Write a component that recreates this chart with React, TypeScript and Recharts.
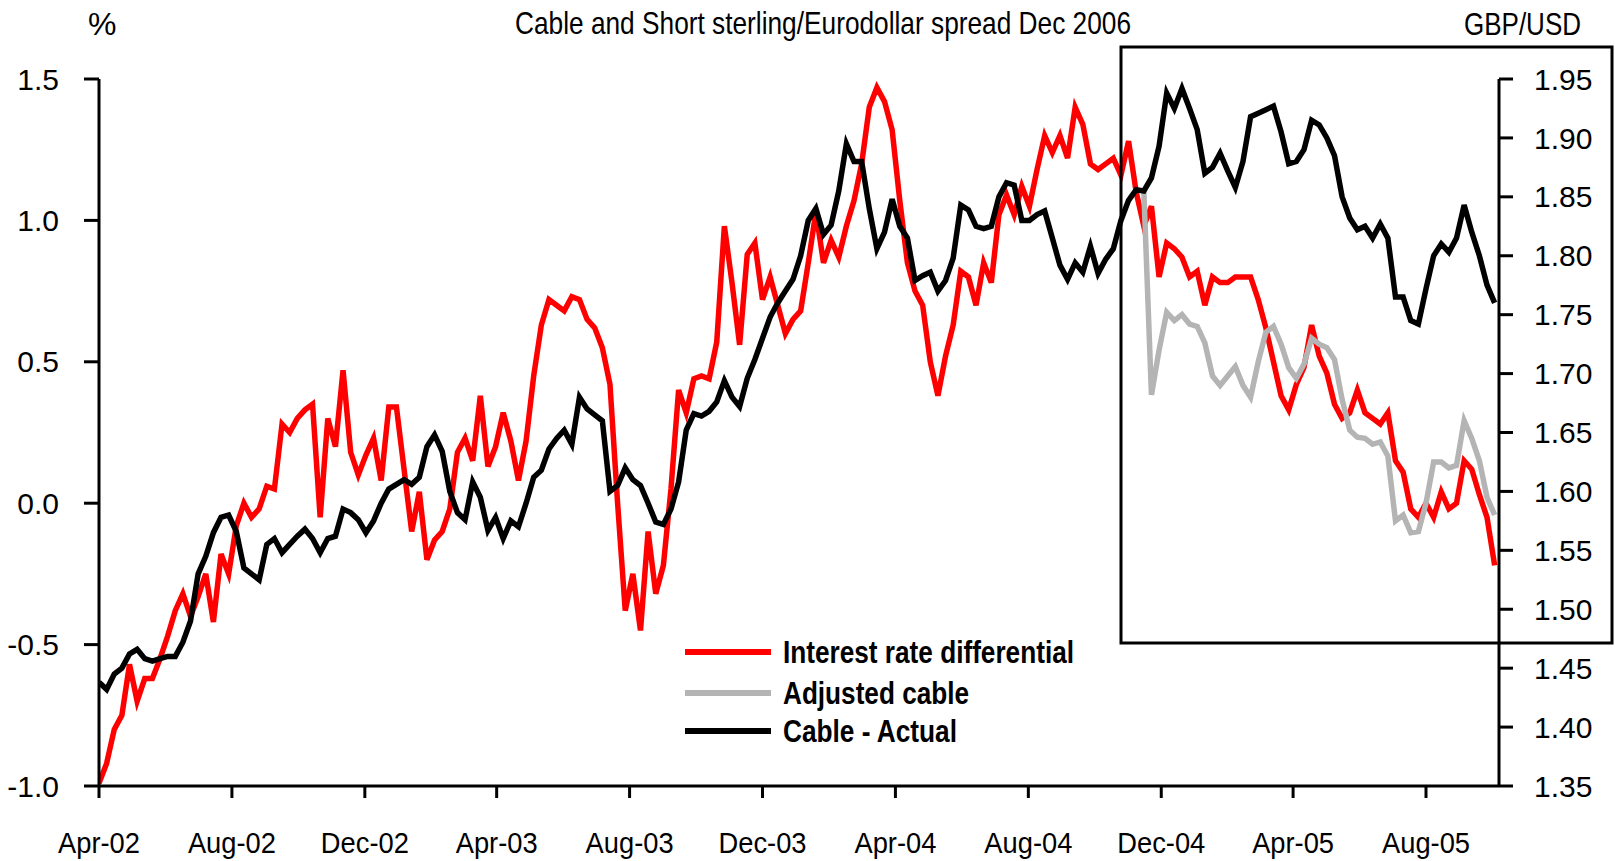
import React from "react";
import { LineChart, Line, XAxis, YAxis, Legend } from "recharts";

const FONT = "'Liberation Sans Narrow', 'Arial Narrow', 'Liberation Sans', Arial, sans-serif";

// Weekly observations starting 1 Apr 2002
const START = Date.UTC(2002, 3, 1);
const WEEK = 7 * 86400000;
const END = Date.UTC(2005, 9, 7);

// Interest rate differential (%), left axis
const rateDiff = [
  -0.99, -0.92, -0.80, -0.75, -0.57, -0.70, -0.62, -0.62, -0.55, -0.47,
  -0.38, -0.32, -0.40, -0.33, -0.25, -0.42, -0.18, -0.25, -0.08, 0.00,
  -0.05, -0.02, 0.06, 0.05, 0.28, 0.25, 0.30, 0.33, 0.35, -0.05,
  0.30, 0.20, 0.47, 0.18, 0.10, 0.17, 0.23, 0.08, 0.34, 0.34,
  0.12, -0.10, 0.04, -0.20, -0.13, -0.10, -0.02, 0.18, 0.23, 0.15,
  0.38, 0.13, 0.20, 0.32, 0.22, 0.08, 0.22, 0.45, 0.63, 0.72,
  0.70, 0.68, 0.73, 0.72, 0.65, 0.62, 0.55, 0.42, 0.00, -0.38,
  -0.25, -0.45, -0.10, -0.32, -0.22, 0.05, 0.40, 0.32, 0.44, 0.45,
  0.44, 0.57, 0.98, 0.78, 0.56, 0.88, 0.92, 0.72, 0.80, 0.70,
  0.60, 0.65, 0.68, 0.85, 1.03, 0.85, 0.93, 0.87, 0.98, 1.07,
  1.20, 1.40, 1.47, 1.42, 1.32, 1.07, 0.85, 0.75, 0.70, 0.50,
  0.38, 0.52, 0.63, 0.82, 0.80, 0.70, 0.85, 0.78, 1.02, 1.09,
  1.02, 1.12, 1.05, 1.18, 1.30, 1.24, 1.30, 1.22, 1.40, 1.34,
  1.20, 1.18, 1.20, 1.22, 1.16, 1.28, 1.10, 0.98, 1.05, 0.80,
  0.92, 0.90, 0.87, 0.80, 0.82, 0.70, 0.80, 0.78, 0.78, 0.80,
  0.80, 0.80, 0.72, 0.62, 0.50, 0.38, 0.33, 0.42, 0.48, 0.63,
  0.52, 0.46, 0.35, 0.30, 0.32, 0.40, 0.32, 0.30, 0.28, 0.32,
  0.15, 0.11, -0.02, -0.05, 0.00, -0.05, 0.04, -0.02, 0.00, 0.15,
  0.12, 0.03, -0.05, -0.22,
];

// Cable - Actual (GBP/USD), right axis
const cableActual = [
  1.438, 1.432, 1.445, 1.450, 1.462, 1.466, 1.458, 1.456, 1.458, 1.460,
  1.460, 1.472, 1.490, 1.530, 1.545, 1.565, 1.578, 1.580, 1.566, 1.535,
  1.530, 1.525, 1.555, 1.560, 1.548, 1.555, 1.562, 1.568, 1.560, 1.548,
  1.560, 1.562, 1.585, 1.582, 1.576, 1.565, 1.575, 1.590, 1.602, 1.606,
  1.610, 1.606, 1.612, 1.638, 1.648, 1.634, 1.600, 1.582, 1.576, 1.608,
  1.595, 1.567, 1.578, 1.560, 1.575, 1.570, 1.590, 1.612, 1.618, 1.636,
  1.645, 1.652, 1.640, 1.680, 1.670, 1.665, 1.660, 1.600, 1.605, 1.620,
  1.610, 1.605, 1.590, 1.574, 1.572, 1.585, 1.608, 1.652, 1.666, 1.664,
  1.668, 1.676, 1.694, 1.680, 1.672, 1.696, 1.712, 1.730, 1.748, 1.760,
  1.770, 1.780, 1.800, 1.830, 1.840, 1.818, 1.826, 1.855, 1.895, 1.880,
  1.880, 1.840, 1.806, 1.820, 1.848, 1.825, 1.815, 1.779, 1.783, 1.786,
  1.770, 1.779, 1.798, 1.843, 1.839, 1.825, 1.823, 1.825, 1.850, 1.862,
  1.860, 1.830, 1.830, 1.835, 1.838, 1.815, 1.792, 1.780, 1.794, 1.786,
  1.808, 1.785, 1.797, 1.806, 1.830, 1.847, 1.856, 1.855, 1.866, 1.893,
  1.938, 1.925, 1.942, 1.925, 1.907, 1.870, 1.875, 1.887, 1.872, 1.858,
  1.880, 1.918, 1.921, 1.924, 1.927, 1.905, 1.878, 1.880, 1.890, 1.915,
  1.911, 1.900, 1.885, 1.850, 1.832, 1.822, 1.825, 1.815, 1.827, 1.815,
  1.765, 1.765, 1.745, 1.742, 1.772, 1.800, 1.810, 1.803, 1.815, 1.843,
  1.820, 1.800, 1.775, 1.760,
];

// Adjusted cable (GBP/USD), right axis, starts at week 137
const ADJ_START_WEEK = 137;
const adjustedCable = [
  1.855, 1.682, 1.720, 1.752, 1.745, 1.750, 1.742, 1.740, 1.726, 1.698,
  1.690, 1.698, 1.706, 1.690, 1.680, 1.710, 1.735, 1.740, 1.725, 1.705,
  1.696, 1.708, 1.730, 1.725, 1.722, 1.712, 1.678, 1.652, 1.646, 1.645,
  1.640, 1.642, 1.630, 1.575, 1.580, 1.565, 1.566, 1.590, 1.625, 1.625,
  1.620, 1.622, 1.660, 1.645, 1.626, 1.595, 1.580,
];

const xTickLabels = ["Apr-02", "Aug-02", "Dec-02", "Apr-03", "Aug-03", "Dec-03", "Apr-04", "Aug-04", "Dec-04", "Apr-05", "Aug-05"];
const xTickDates = [
  [2002, 3], [2002, 7], [2002, 11], [2003, 3], [2003, 7], [2003, 11],
  [2004, 3], [2004, 7], [2004, 11], [2005, 3], [2005, 7],
];
const leftTicks = [-1.0, -0.5, 0.0, 0.5, 1.0, 1.5];
const rightTicks = [1.35, 1.4, 1.45, 1.5, 1.55, 1.6, 1.65, 1.7, 1.75, 1.8, 1.85, 1.9, 1.95];

const series = [
  { key: "rate", name: "Interest rate differential", color: "#FF0000", axis: "left", labelWidth: 291 },
  { key: "adj", name: "Adjusted cable", color: "#B4B4B4", axis: "right", labelWidth: 186 },
  { key: "cable", name: "Cable - Actual", color: "#000000", axis: "right", labelWidth: 174 },
];

const xTicks = xTickDates.map(([y, m]) => Date.UTC(y, m, 1));
const labelFor = (t: number) => {
  const i = xTicks.indexOf(t);
  return i >= 0 ? xTickLabels[i] : "";
};

const data = rateDiff.map((r, i) => ({
  t: START + i * WEEK,
  rate: r,
  cable: cableActual[i],
  adj: i >= ADJ_START_WEEK ? adjustedCable[i - ADJ_START_WEEK] : null,
}));

const tickStyle = { fill: "#000", fontSize: 30, fontFamily: FONT };
const lineStyle = { stroke: "#000", strokeWidth: 3 };

const XTick = (props: any) => {
  const { x, y, payload } = props;
  return (
    <g transform={`translate(${x},${y})`}>
      <text
        textAnchor="middle"
        dy="0.71em"
        transform="scale(0.91,1)"
        fontSize={30}
        fontFamily={FONT}
        fill="#000"
      >
        {labelFor(payload.value)}
      </text>
    </g>
  );
};

const LegendContent = () => (
  <svg width={560} height={120} style={{ display: "block", overflow: "visible" }}>
    {series.map((s, i) => {
      const cy = [20, 61, 99][i];
      return (
        <g key={s.key}>
          <line x1={0} y1={cy} x2={86} y2={cy} stroke={s.color} strokeWidth={6} />
          <text
            x={98}
            y={cy + 11}
            fontFamily={FONT}
            fontWeight="bold"
            fontSize={31}
            fill="#000"
            textLength={s.labelWidth}
            lengthAdjust="spacingAndGlyphs"
          >
            {s.name}
          </text>
        </g>
      );
    })}
  </svg>
);

export default function App() {
  return (
    <div style={{ position: "absolute", left: 0, top: 0, width: 1615, height: 861, background: "#fff" }}>
      <LineChart
        width={1615}
        height={861}
        data={data}
        margin={{ top: 79, right: 0, bottom: 0, left: 0 }}
      >
        <XAxis
          dataKey="t"
          type="number"
          domain={[START, END]}
          ticks={xTicks}
          tickFormatter={labelFor}
          height={75}
          tick={<XTick />}
          tickSize={12}
          tickMargin={34}
          tickLine={lineStyle}
          axisLine={lineStyle}
          allowDataOverflow
        />
        <YAxis
          yAxisId="left"
          orientation="left"
          domain={[-1, 1.5]}
          ticks={leftTicks}
          tickFormatter={(v: number) => v.toFixed(1)}
          width={99}
          tick={tickStyle}
          tickSize={15}
          tickMargin={25}
          tickLine={lineStyle}
          axisLine={lineStyle}
          interval={0}
          allowDataOverflow
        />
        <YAxis
          yAxisId="right"
          orientation="right"
          domain={[1.35, 1.95]}
          ticks={rightTicks}
          tickFormatter={(v: number) => v.toFixed(2)}
          width={116}
          tick={tickStyle}
          tickSize={14}
          tickMargin={21}
          tickLine={lineStyle}
          axisLine={lineStyle}
          interval={0}
          allowDataOverflow
        />
        {series.map((s) => (
          <Line
            key={s.key}
            yAxisId={s.axis}
            dataKey={s.key}
            name={s.name}
            type="linear"
            stroke={s.color}
            strokeWidth={5.5}
            dot={false}
            activeDot={false}
            isAnimationActive={false}
            strokeLinejoin="miter"
          />
        ))}
        <Legend
          layout="vertical"
          align="center"
          verticalAlign="middle"
          content={LegendContent}
          wrapperStyle={{ position: "absolute", left: 685, top: 632, width: 560, overflow: "visible" }}
        />
      </LineChart>
      <svg
        width={1615}
        height={861}
        style={{ position: "absolute", left: 0, top: 0, pointerEvents: "none" }}
      >
        <rect x={1121} y={47} width={491} height={596} fill="none" stroke="#000" strokeWidth={3} />
        <text
          x={823}
          y={34}
          textAnchor="middle"
          fontFamily={FONT}
          fontSize={32}
          fill="#000"
          textLength={616}
          lengthAdjust="spacingAndGlyphs"
        >
          Cable and Short sterling/Eurodollar spread Dec 2006
        </text>
        <text x={88} y={35} fontFamily={FONT} fontSize={32} fill="#000">%</text>
        <text
          x={1581}
          y={35}
          textAnchor="end"
          fontFamily={FONT}
          fontSize={32}
          fill="#000"
          textLength={117}
          lengthAdjust="spacingAndGlyphs"
        >
          GBP/USD
        </text>
      </svg>
    </div>
  );
}
